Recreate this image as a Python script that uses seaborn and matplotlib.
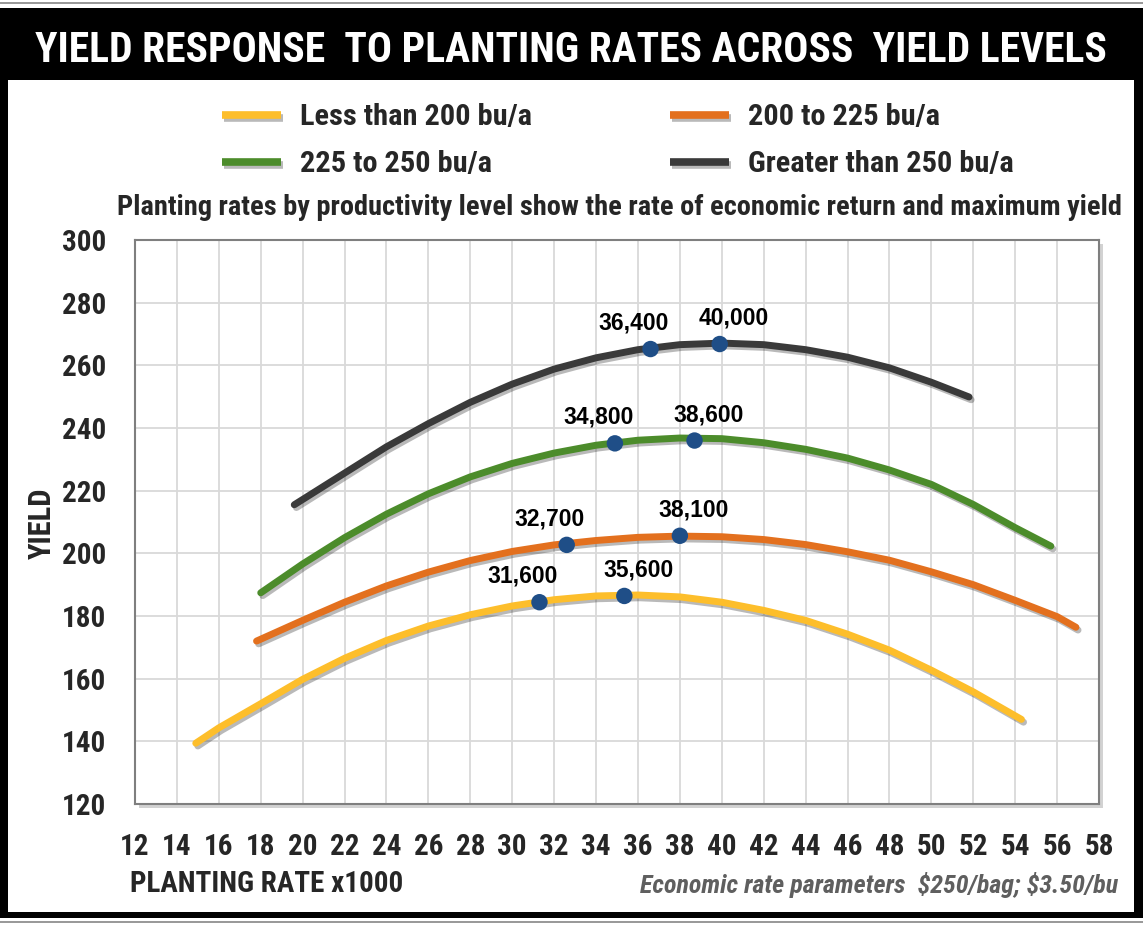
import matplotlib
matplotlib.use('Agg')
import matplotlib.pyplot as plt
import matplotlib.patheffects as pe
from matplotlib import font_manager as fm
from matplotlib.lines import Line2D
from matplotlib.patches import Rectangle
import pandas as pd
import seaborn as sns

# Data
levels = ['Less than 200 bu/a', '200 to 225 bu/a', '225 to 250 bu/a', 'Greater than 250 bu/a']
colors = ['#FDBE2B', '#E3701E', '#4C8C2B', '#3A3A3A']

low_x = [14.9, 16, 18, 20, 22, 24, 26, 28, 30, 32, 34, 36, 38, 40, 42, 44, 46, 48, 50, 52, 54.3]
low_y = [139.4, 144.3, 152.0, 159.8, 166.5, 172.2, 176.8, 180.4, 183.2, 185.2, 186.4, 186.7, 186.1,
         184.4, 181.8, 178.6, 174.2, 169.1, 162.7, 155.8, 147.0]

mid_x = [17.8, 20, 22, 24, 26, 28, 30, 32, 34, 36, 38, 40, 42, 44, 46, 48, 50, 52, 54, 56, 56.9]
mid_y = [172.0, 178.6, 184.4, 189.6, 194.0, 197.7, 200.6, 202.7, 204.1, 205.1, 205.5, 205.3, 204.4,
         202.8, 200.5, 197.8, 194.1, 190.0, 185.0, 179.8, 176.4]

high_x = [18.0, 20, 22, 24, 26, 28, 30, 32, 34, 36, 38, 40, 42, 44, 46, 48, 50, 52, 54, 55.7]
high_y = [187.4, 196.6, 205.0, 212.5, 219.0, 224.4, 228.7, 232.0, 234.5, 236.1, 236.8, 236.6, 235.3,
          233.2, 230.4, 226.6, 222.0, 215.6, 208.2, 202.3]

top_x = [19.6, 22, 24, 26, 28, 30, 32, 34, 36, 38, 40, 42, 44, 46, 48, 50, 51.8]
top_y = [215.5, 225.6, 234.0, 241.4, 248.2, 254.0, 258.8, 262.4, 265.0, 266.6, 267.1, 266.6, 265.0,
         262.6, 259.2, 254.6, 249.9]

# economic rate / max yield points (first = economic, second = maximum)
dot_x = [31.3, 35.35, 32.6, 38.0, 34.9, 38.7, 36.6, 39.9]
dot_y = [184.4, 186.4, 202.7, 205.6, 235.1, 236.0, 265.2, 266.8]
dot_labels = ['31,600', '35,600', '32,700', '38,100', '34,800', '38,600', '36,400', '40,000']

x_ticks = list(range(12, 59, 2))
y_ticks = list(range(120, 301, 20))

df = pd.concat([
    pd.DataFrame({'rate': xs, 'yield': ys, 'level': lvl})
    for xs, ys, lvl in [(low_x, low_y, levels[0]), (mid_x, mid_y, levels[1]),
                        (high_x, high_y, levels[2]), (top_x, top_y, levels[3])]
])

sns.set_theme(style='whitegrid')


def weight_num(w):
    if isinstance(w, str):
        return fm.weight_dict.get(w, 400)
    return int(w)


def pick_narrow():
    # a condensed family that has a bold face, otherwise plain Liberation Sans
    fonts = fm.fontManager.ttflist
    bold_names = {f.name for f in fonts
                  if ('Narrow' in f.name or 'Condensed' in f.name) and weight_num(f.weight) >= 700}
    for pref in ['Liberation Sans Narrow', 'Arial Narrow', 'Roboto Condensed',
                 'Open Sans Condensed', 'Noto Sans Condensed']:
        if pref in bold_names:
            return {'family': pref}
    if bold_names:
        return {'family': sorted(bold_names)[0]}
    for f in fonts:
        if f.name == 'DejaVu Sans' and 'condensed' in str(f.stretch) and weight_num(f.weight) >= 700:
            return {'family': 'DejaVu Sans', 'stretch': 'condensed'}
    return {'family': 'Liberation Sans'}


narrow = pick_narrow()
plt.rcParams['font.family'] = [narrow['family'], 'DejaVu Sans']
plt.rcParams['font.weight'] = 'bold'
NKW = dict(narrow, fontweight='bold')

W, H = 1143, 927
fig = plt.figure(figsize=(W / 100, H / 100), dpi=100)
fig.patch.set_facecolor('white')
renderer = fig.canvas.get_renderer()


def box(x0, y0, x1, y1, color='black'):
    # rectangle given in pixel coordinates from top-left
    fig.add_artist(Rectangle((x0 / W, 1 - y1 / H), (x1 - x0) / W, (y1 - y0) / H,
                             transform=fig.transFigure, color=color, lw=0))


def fx(px):
    return px / W


def fy(py):
    return 1 - py / H


def fit(t, target, vertical=False):
    # shrink a text until it spans the width it has in the reference
    bb = t.get_window_extent(renderer)
    span = bb.height if vertical else bb.width
    t.set_fontsize(min(t.get_fontsize(), t.get_fontsize() * target / span))
    return t.get_fontsize()


# frame
box(0, 2, W, 4, '#9a9a9a')
box(0, 8, W, 80)
box(0, 8, 8, 918)
box(1134, 8, W, 918)
box(0, 912, W, 918)
box(0, 921, W, 923, '#9a9a9a')

title = fig.text(fx(571), fy(62), 'YIELD RESPONSE  TO PLANTING RATES ACROSS  YIELD LEVELS',
                 color='white', fontsize=30, ha='center', va='baseline', **NKW)
fit(title, 1078)

# legend drawn by hand in figure coords
shadow = [pe.SimpleLineShadow(offset=(1.5, -2), shadow_color='k', alpha=0.3), pe.Normal()]
leg_pos = [(222, 115), (670, 115), (222, 162), (670, 162)]
leg_texts = []
for (lx, ly), lvl, col in zip(leg_pos, levels, colors):
    ln = Line2D([fx(lx), fx(lx + 59)], [fy(ly), fy(ly)], transform=fig.transFigure,
                color=col, lw=5.5, solid_capstyle='butt', path_effects=shadow)
    fig.add_artist(ln)
    leg_texts.append(fig.text(fx(lx + 78), fy(ly + 10), lvl, fontsize=22,
                              ha='left', va='baseline', **NKW))
leg_size = fit(leg_texts[0], 232)
for t in leg_texts:
    t.set_fontsize(leg_size)

sub = fig.text(fx(619), fy(215),
               'Planting rates by productivity level show the rate of economic return and maximum yield',
               fontsize=21, ha='center', va='baseline', **NKW)
fit(sub, 1004)

ax = fig.add_axes([135 / W, 1 - 804 / H, (1099 - 135) / W, (804 - 240) / H])
ax.patch.set_path_effects([pe.SimplePatchShadow(offset=(3, -3), alpha=0.25), pe.Normal()])

sns.lineplot(data=df, x='rate', y='yield', hue='level', hue_order=levels,
             palette=dict(zip(levels, colors)), estimator=None, sort=False,
             linewidth=5, legend=False, ax=ax)
for line in ax.lines:
    line.set_solid_capstyle('round')
    line.set_solid_joinstyle('round')
    line.set_path_effects(shadow)

sns.scatterplot(x=dot_x, y=dot_y, color='#1F4E87', s=140, edgecolor='none',
                zorder=5, legend=False, ax=ax)

for i, (x, y, lab) in enumerate(zip(dot_x, dot_y, dot_labels)):
    dx = -12 if i % 2 == 0 else 10
    ax.annotate(lab, (x, y), xytext=(dx, 14), textcoords='offset points',
                ha='center', va='baseline', fontsize=16.5, family='Liberation Sans',
                fontweight='bold', color='black')

ax.set_xlim(12, 58)
ax.set_ylim(120, 300)
ax.set_xticks(x_ticks)
ax.set_yticks(y_ticks)
ax.tick_params(axis='x', length=0, labelsize=21, pad=21)
ax.tick_params(axis='y', length=0, labelsize=21, pad=21)
for lbl in ax.get_xticklabels() + ax.get_yticklabels():
    lbl.set_fontweight('bold')
    lbl.set_fontfamily([narrow['family'], 'DejaVu Sans'])
    if 'stretch' in narrow:
        lbl.set_fontstretch(narrow['stretch'])
ax.grid(True, color='#d9d9d9', lw=1.3)
for sp in ax.spines.values():
    sp.set_visible(True)
    sp.set_color('#7f7f7f')
    sp.set_linewidth(1.5)

xl = ax.set_xlabel('PLANTING RATE x1000', fontsize=22, ha='left', va='baseline', **NKW)
ax.xaxis.set_label_coords((130 - 135) / 964, -(892 - 804) / 564)
fit(xl, 273)
yl = ax.set_ylabel('YIELD', fontsize=22, ha='center', va='center', **NKW)
ax.yaxis.set_label_coords((42 - 135) / 964, (804 - 523) / 564)
fit(yl, 73, vertical=True)

note = fig.text(fx(1118), fy(893), 'Economic rate parameters  \\$250/bag; \\$3.50/bu',
                fontsize=20, style='italic', color='#5f5f5f', ha='right', va='baseline', **NKW)
fit(note, 478)

fig.savefig('out.png', dpi=100)
